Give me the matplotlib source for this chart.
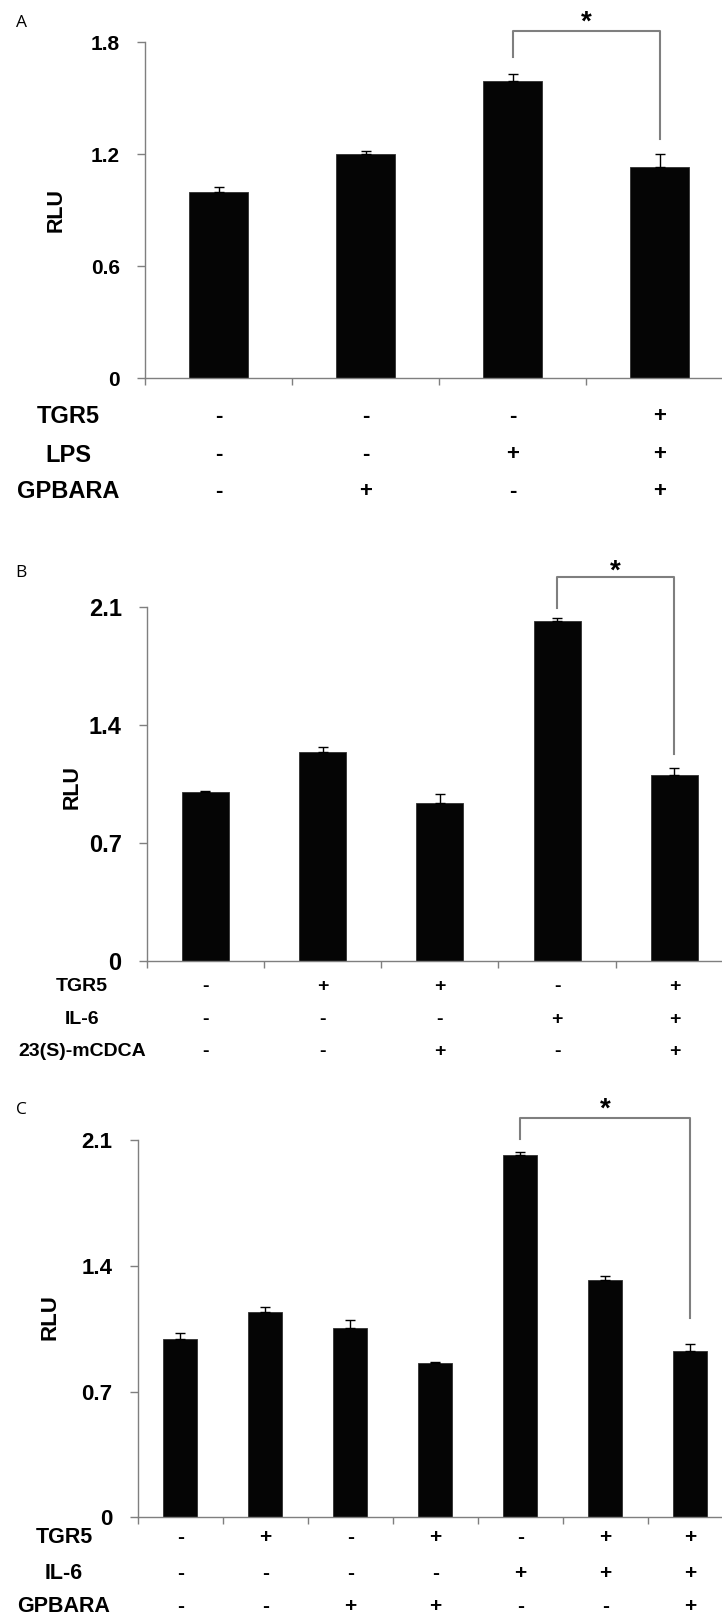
import matplotlib
matplotlib.use("Agg")
import matplotlib.pyplot as plt
from matplotlib.transforms import blended_transform_factory

plt.rcParams['font.family'] = ['Liberation Sans', 'DejaVu Sans']

# ---------------- data ----------------
a_values = [1.0, 1.2, 1.59, 1.13]
a_err = [0.027, 0.015, 0.04, 0.07]
a_rows = ["TGR5", "LPS", "GPBARA"]
a_signs = [["-", "-", "-", "+"],
           ["-", "-", "+", "+"],
           ["-", "+", "-", "+"]]
a_yticks = [0, 0.6, 1.2, 1.8]
a_yticklabels = ["0", "0.6", "1.2", "1.8"]
a_bracket = [2, 3, 1.861, 1.72, 1.282]   # left bar, right bar, top, left end, right end

b_values = [1.0, 1.237, 0.938, 2.016, 1.104]
b_err = [0.005, 0.033, 0.05, 0.018, 0.04]
b_rows = ["TGR5", "IL-6", "23(S)-mCDCA"]
b_signs = [["-", "+", "+", "-", "+"],
           ["-", "-", "-", "+", "+"],
           ["-", "-", "+", "-", "+"]]
b_yticks = [0, 0.7, 1.4, 2.1]
b_yticklabels = ["0", "0.7", "1.4", "2.1"]
b_bracket = [3, 4, 2.278, 2.09, 1.229]

c_values = [0.995, 1.145, 1.052, 0.858, 2.015, 1.323, 0.925]
c_err = [0.033, 0.024, 0.047, 0.006, 0.02, 0.022, 0.042]
c_rows = ["TGR5", "IL-6", "GPBARA"]
c_signs = [["-", "+", "-", "+", "-", "+", "+"],
           ["-", "-", "-", "-", "+", "+", "+"],
           ["-", "-", "+", "+", "-", "-", "+"]]
c_yticks = [0, 0.7, 1.4, 2.1]
c_yticklabels = ["0", "0.7", "1.4", "2.1"]
c_bracket = [4, 6, 2.223, 2.106, 1.107]

W, H = 722, 1617
fig = plt.figure(figsize=(W / 100, H / 100), dpi=100)

def fy(px):
    return 1 - px / H

def fx(px):
    return px / W

panels = [
    dict(letter="A", letter_xy=(21, 23), values=a_values, err=a_err, rows=a_rows,
         signs=a_signs, yticks=a_yticks, yticklabels=a_yticklabels, bracket=a_bracket,
         left=145, right=733, top=42.3, bottom=378.3, row_y=[416.7, 455, 491.7],
         label_x=68, tick_fs=15, label_fs=17, sign_fs=16, rlu_fs=15.5, rlu_x=56,
         rlu_frac=0.50, ypad=12, star_y=1.905),
    dict(letter="B", letter_xy=(21, 573), values=b_values, err=b_err, rows=b_rows,
         signs=b_signs, yticks=b_yticks, yticklabels=b_yticklabels, bracket=b_bracket,
         left=146.7, right=733, top=606.7, bottom=960.7, row_y=[986.7, 1019.3, 1051.7],
         label_x=82, tick_fs=17, label_fs=14, sign_fs=14, rlu_fs=15.5, rlu_x=72,
         rlu_frac=0.49, ypad=12, star_y=2.31),
    dict(letter="C", letter_xy=(21, 1110), values=c_values, err=c_err, rows=c_rows,
         signs=c_signs, yticks=c_yticks, yticklabels=c_yticklabels, bracket=c_bracket,
         left=137.7, right=733, top=1140, bottom=1517.3, row_y=[1537.3, 1573.3, 1606.7],
         label_x=64, tick_fs=16, label_fs=15.5, sign_fs=15, rlu_fs=16, rlu_x=50,
         rlu_frac=0.53, ypad=12, star_y=2.268),
]

spine_col = "#7f7f7f"
for p in panels:
    ax = fig.add_axes([fx(p["left"]), fy(p["bottom"]),
                       fx(p["right"] - p["left"]), (p["bottom"] - p["top"]) / H])
    n = len(p["values"])
    xs = [i + 0.5 for i in range(n)]
    ax.bar(xs, p["values"], width=0.4, color="#050505", edgecolor="#303030", linewidth=0.6,
           yerr=[[0] * n, p["err"]], ecolor="black",
           error_kw=dict(capsize=3.5, elinewidth=1.0, capthick=1.0), zorder=2)
    ax.set_xlim(0, n)
    ax.set_ylim(p["yticks"][0], p["yticks"][-1])
    ax.set_xticks(range(n + 1))
    ax.set_xticklabels([])
    ax.set_yticks(p["yticks"])
    ax.set_yticklabels(p["yticklabels"], fontsize=p["tick_fs"], fontweight="bold")
    ax.tick_params(axis="y", direction="out", length=6, width=1, color=spine_col, pad=p["ypad"])
    ax.tick_params(axis="x", direction="out", length=5, width=1, color=spine_col)
    for s in ["top", "right"]:
        ax.spines[s].set_visible(False)
    for s in ["left", "bottom"]:
        ax.spines[s].set_color(spine_col)
        ax.spines[s].set_linewidth(1.0)
        ax.spines[s].set_clip_on(False)

    # RLU label
    ax_mid = fy(p["bottom"]) + p["rlu_frac"] * (p["bottom"] - p["top"]) / H
    fig.text(fx(p["rlu_x"]), ax_mid, "RLU", rotation=90, fontsize=p["rlu_fs"],
             fontweight="bold", ha="center", va="center")

    # panel letter
    fig.text(fx(p["letter_xy"][0]), fy(p["letter_xy"][1]), p["letter"],
             family=["Open Sans", "DejaVu Sans"], fontsize=12.5, ha="center", va="center")

    # significance bracket
    l, r, top, le, re_ = p["bracket"]
    xl, xr = xs[l], xs[r]
    ax.plot([xl, xl, xr, xr], [le, top, top, re_], color=spine_col, lw=1.5,
            clip_on=False, zorder=3)
    ax.text((xl + xr) / 2, p["star_y"], "*", fontsize=20, fontweight="bold",
            ha="center", va="center", clip_on=False)

    # condition table
    tr = blended_transform_factory(ax.transData, fig.transFigure)
    for name, signs, ry in zip(p["rows"], p["signs"], p["row_y"]):
        fig.text(fx(p["label_x"]), fy(ry), name, fontsize=p["label_fs"],
                 fontweight="bold", ha="center", va="center")
        for x, s in zip(xs, signs):
            ax.text(x, fy(ry), s, transform=tr, fontsize=p["sign_fs"],
                    fontweight="bold", ha="center", va="center", clip_on=False)

fig.savefig("out.png", dpi=100)
